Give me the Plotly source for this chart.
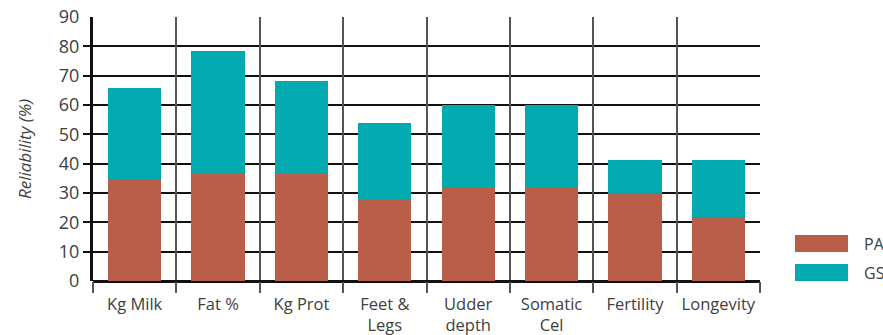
import plotly.graph_objects as go

categories = ["Kg Milk", "Fat %", "Kg Prot", "Feet &<br>Legs", "Udder<br>depth",
              "Somatic<br>Cel", "Fertility", "Longevity"]
pa_values = [34.6, 36.6, 36.6, 27.7, 31.7, 31.7, 30.0, 21.8]
total_values = [65.9, 78.5, 68.3, 53.9, 60.0, 60.0, 41.3, 41.3]
gs_values = [t - p for t, p in zip(total_values, pa_values)]
series_names = ["PA", "GS"]
series_colors = ["#B95E48", "#02AAB0"]
y_ticks = list(range(0, 100, 10))
grid_ticks = list(range(10, 90, 10))

FONT = "'Open Sans', Lato, sans-serif"
TXT = "#404040"

fig = go.Figure()
fig.add_trace(go.Bar(x=categories, y=pa_values, name=series_names[0],
                     marker=dict(color=series_colors[0], line=dict(width=0)),
                     showlegend=False))
fig.add_trace(go.Bar(x=categories, y=gs_values, name=series_names[1],
                     marker=dict(color=series_colors[1], line=dict(width=0)),
                     showlegend=False))

# manual legend (large swatches)
L, R, T, B = 93, 760, 17, 281
W, H = R - L, B - T
def px(x): return (x - L) / W
def py(y): return (B - y) / H
legend_rows = [(235, 252), (264, 281)]
for (y0, y1), name, col in zip(legend_rows, series_names, series_colors):
    fig.add_shape(type="rect", xref="paper", yref="paper",
                  x0=px(795), x1=px(848), y0=py(y1), y1=py(y0),
                  fillcolor=col, line=dict(width=0))
    fig.add_annotation(xref="paper", yref="paper", x=px(862), y=py((y0 + y1) / 2),
                       text=name, showarrow=False, xanchor="left", yanchor="middle",
                       font=dict(family=FONT, size=16, color=TXT))

fig.update_layout(
    barmode="stack",
    bargap=0.36,
    width=883, height=335,
    margin=dict(l=L, r=883 - R, t=T, b=335 - B, autoexpand=False),
    paper_bgcolor="white", plot_bgcolor="white",
    font=dict(family=FONT, size=16, color=TXT),
    xaxis=dict(
        tickson="boundaries", showgrid=True, gridcolor="#555555", gridwidth=1.5,
        ticks="outside", ticklen=11, tickcolor="#555555", tickwidth=1.5,
        tickangle=0,
        tickfont=dict(size=16.5, color=TXT), ticklabelstandoff=11,
        showline=False, range=[-0.5, 7.5],
    ),
    yaxis=dict(
        range=[0, 90], tickvals=y_ticks, showgrid=False,
        ticks="outside", ticklen=7, tickcolor="rgba(0,0,0,0)",
        showline=True, linecolor="#111111", linewidth=3,
        zeroline=True, zerolinecolor="#111111", zerolinewidth=3,
        tickfont=dict(size=18, color=TXT),
        title=dict(text="<i>Reliability (%)</i>", font=dict(size=17, color=TXT),
                   standoff=23),
        minor=dict(tickvals=grid_ticks, showgrid=True, gridcolor="#111111", gridwidth=1.5,
                   ticks="outside", ticklen=7, tickcolor="#111111", tickwidth=1.5),
    ),
)

fig.write_html("out.html")
